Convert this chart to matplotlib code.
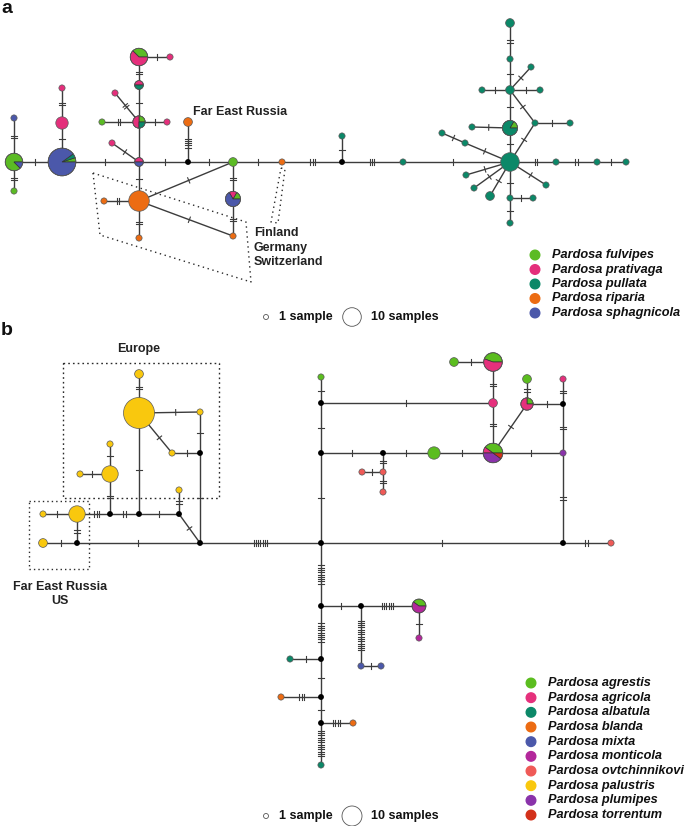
import matplotlib
matplotlib.use('Agg')
import matplotlib.pyplot as plt
from matplotlib.patches import Wedge, Circle
import numpy as np

W, H = 685, 826
plt.rcParams['font.family'] = ['Liberation Sans', 'DejaVu Sans']

# ---------------- data: panel a ----------------
species_a = ['Pardosa fulvipes', 'Pardosa prativaga', 'Pardosa pullata',
             'Pardosa riparia', 'Pardosa sphagnicola']
colors_a = ['#5bbb24', '#e42f7b', '#0b8868', '#ec6c13', '#4b58aa']

# sample counts per haplotype, in species_a order
hap_a = {
    'a1': [7, 0, 0, 0, 1], 'a2': [0, 0, 0, 0, 1], 'a3': [1, 0, 0, 0, 0],
    'a4': [1, 0, 1, 0, 18], 'a5': [0, 4, 0, 0, 0], 'a6': [0, 1, 0, 0, 0],
    'a7': [0, 1, 0, 0, 1], 'a8': [0, 1, 0, 0, 0], 'a9': [1, 2, 1, 0, 0],
    'a10': [1, 0, 0, 0, 0], 'a11': [0, 1, 0, 0, 0], 'a12': [0, 1, 0, 0, 0],
    'a13': [0, 1, 1, 0, 0], 'a14': [3, 5, 0, 0, 0], 'a15': [0, 1, 0, 0, 0],
    'a16': [0, 0, 0, 11, 0], 'a17': [0, 0, 0, 1, 0], 'a18': [0, 0, 0, 1, 0],
    'a19': [0, 0, 0, 1, 0], 'a20': [0, 0, 0, 2, 0], 'a21': [2, 0, 0, 0, 0],
    'a22': [1, 1, 0, 0, 4], 'a23': [0, 0, 0, 1, 0], 'a24': [0, 0, 1, 0, 0],
    'a25': [0, 0, 1, 0, 0], 'a26': [0, 0, 9, 0, 0], 'a27': [0, 0, 1, 0, 0],
    'a28': [0, 0, 1, 0, 0], 'a29': [0, 0, 1, 0, 0], 'a30': [1, 0, 5, 0, 0],
    'a31': [0, 0, 1, 0, 0], 'a32': [0, 0, 2, 0, 0], 'a33': [0, 0, 1, 0, 0],
    'a34': [0, 0, 1, 0, 0], 'a35': [0, 0, 1, 0, 0], 'a36': [0, 0, 1, 0, 0],
    'a37': [0, 0, 2, 0, 0], 'a38': [0, 0, 1, 0, 0], 'a39': [0, 0, 1, 0, 0],
    'a40': [0, 0, 1, 0, 0], 'a41': [0, 0, 1, 0, 0], 'a42': [0, 0, 1, 0, 0],
    'a43': [0, 0, 1, 0, 0], 'a44': [0, 0, 2, 0, 0], 'a45': [0, 0, 1, 0, 0],
    'a46': [0, 0, 1, 0, 0], 'a47': [0, 0, 1, 0, 0], 'a48': [0, 0, 1, 0, 0],
}
# edges: (haplotype, haplotype, number of mutations)
edges_a = [
    ('a1', 'a2', 2), ('a1', 'a3', 2), ('a1', 'a4', 1), ('a4', 'a5', 1),
    ('a5', 'a6', 2), ('a4', 'a7', 1), ('a7', 'a8', 1), ('a7', 'a9', 0),
    ('a9', 'a10', 2), ('a9', 'a11', 1), ('a9', 'a12', 2), ('a9', 'a13', 1),
    ('a13', 'a14', 2), ('a14', 'a15', 1), ('a7', 'a16', 1), ('a16', 'a17', 2),
    ('a16', 'a18', 2), ('a16', 'a21', 1), ('a16', 'a19', 1), ('a7', 'j1', 1),
    ('j1', 'a20', 5), ('j1', 'a21', 1), ('a21', 'a22', 2), ('a22', 'a19', 2),
    ('a21', 'a23', 1), ('a23', 'j2', 3), ('j2', 'a24', 1), ('j2', 'a25', 3),
    ('a25', 'a26', 1), ('a26', 'a27', 2), ('a27', 'a28', 2), ('a28', 'a29', 1),
    ('a26', 'a30', 1), ('a30', 'a31', 1), ('a30', 'a32', 1), ('a32', 'a33', 1),
    ('a32', 'a34', 1), ('a32', 'a35', 1), ('a32', 'a36', 1), ('a36', 'a37', 2),
    ('a32', 'a38', 1), ('a38', 'a39', 1), ('a38', 'a26', 1), ('a26', 'a40', 1),
    ('a40', 'a41', 1), ('a26', 'a42', 1), ('a26', 'a43', 1), ('a26', 'a44', 1),
    ('a26', 'a45', 1), ('a26', 'a46', 1), ('a46', 'a47', 1), ('a46', 'a48', 1),
]

# ---------------- data: panel b ----------------
species_b = ['Pardosa agrestis', 'Pardosa agricola', 'Pardosa albatula',
             'Pardosa blanda', 'Pardosa mixta', 'Pardosa monticola',
             'Pardosa ovtchinnikovi', 'Pardosa palustris', 'Pardosa plumipes',
             'Pardosa torrentum']
colors_b = ['#5bbd1f', '#e5307c', '#0c8868', '#ec6b12', '#4b58aa',
            '#b3279b', '#ef5a57', '#f9c80e', '#8a33aa', '#d3311a']

def _c(**kw):
    idx = {'agr': 0, 'agc': 1, 'alb': 2, 'bla': 3, 'mix': 4, 'mon': 5,
           'ovt': 6, 'pal': 7, 'plu': 8, 'tor': 9}
    v = [0] * 10
    for k, n in kw.items():
        v[idx[k]] = n
    return v

hap_b = {
    'b1': _c(pal=2), 'b2': _c(pal=1), 'b3': _c(pal=7), 'b4': _c(pal=1),
    'b5': _c(pal=7), 'b6': _c(pal=1), 'b7': _c(pal=1), 'b8': _c(pal=25),
    'b9': _c(pal=2), 'b10': _c(pal=1), 'b11': _c(pal=1), 'b12': _c(agr=1),
    'b13': _c(agc=2), 'b14': _c(agr=4, agc=5), 'b15': _c(agr=2),
    'b16': _c(agr=4, agc=1, plu=4, tor=1), 'b17': _c(agr=4), 'b18': _c(plu=1),
    'b19': _c(ovt=1), 'b20': _c(ovt=1), 'b21': _c(ovt=1),
    'b22': _c(agr=1, agc=3), 'b23': _c(agr=2), 'b24': _c(agc=1),
    'b25': _c(ovt=1), 'b26': _c(agr=2, mon=3), 'b27': _c(mon=1),
    'b28': _c(mix=1), 'b29': _c(mix=1), 'b30': _c(alb=1), 'b31': _c(bla=1),
    'b32': _c(bla=1), 'b33': _c(alb=1),
}
edges_b = [
    ('b1', 'k1', 1), ('k1', 'b3', 2), ('b3', 'b2', 1), ('b3', 'k2', 3),
    ('k2', 'k3', 2), ('k3', 'k4', 1), ('k4', 'k5', 1), ('k4', 'b4', 2),
    ('k2', 'b5', 2), ('b5', 'b6', 1), ('b5', 'b7', 1), ('k3', 'b8', 1),
    ('b8', 'b9', 2), ('b8', 'b10', 1), ('b8', 'b11', 1), ('b11', 'k6', 1),
    ('b10', 'k6', 1), ('k6', 'k5', 1), ('k1', 'k5', 1), ('k5', 'k7', 7),
    ('k7', 'k9', 1), ('k9', 'k8', 1), ('k8', 'b12', 1), ('k8', 'b13', 1),
    ('b13', 'b14', 2), ('b14', 'b15', 1), ('b13', 'b16', 2), ('k9', 'k10', 1),
    ('k10', 'b17', 1), ('b17', 'b16', 1), ('b16', 'b18', 1), ('k10', 'b19', 2),
    ('b19', 'b20', 1), ('b19', 'b21', 2), ('b16', 'b22', 1), ('b22', 'b23', 2),
    ('b22', 'k11', 1), ('k11', 'b24', 2), ('k11', 'b18', 2), ('b18', 'k12', 2),
    ('k7', 'k12', 1), ('k12', 'b25', 2), ('k7', 'k13', 9), ('k13', 'k14', 1),
    ('k14', 'b26', 6), ('b26', 'b27', 1), ('k14', 'b28', 14), ('b28', 'b29', 1),
    ('k13', 'k15', 9), ('k15', 'b30', 1), ('k15', 'k16', 1), ('k16', 'b31', 3),
    ('k16', 'k17', 1), ('k17', 'b32', 4), ('k17', 'b33', 12),
]

# ---------------- layout (pixel positions of network vertices) ----------------
pos_a = {
    'a1': (14, 162), 'a2': (14, 118), 'a3': (14, 191), 'a4': (62, 162),
    'a5': (62, 123), 'a6': (62, 88), 'a7': (139, 162), 'a8': (112, 143),
    'a9': (139, 122), 'a10': (102, 122), 'a11': (167, 122), 'a12': (115, 93),
    'a13': (139, 85), 'a14': (139, 57), 'a15': (170, 57), 'a16': (139, 201),
    'a17': (104, 201), 'a18': (139, 238), 'a19': (233, 236), 'j1': (188, 162),
    'a20': (188, 122), 'a21': (233, 162), 'a22': (233, 199), 'a23': (282, 162),
    'j2': (342, 162), 'a24': (342, 136), 'a25': (403, 162), 'a26': (510, 162),
    'a27': (556, 162), 'a28': (597, 162), 'a29': (626, 162), 'a30': (510, 128),
    'a31': (472, 127), 'a32': (510, 90), 'a33': (482, 90), 'a34': (540, 90),
    'a35': (531, 67), 'a36': (510, 59), 'a37': (510, 23), 'a38': (535, 123),
    'a39': (570, 123), 'a40': (465, 143), 'a41': (442, 133), 'a42': (466, 175),
    'a43': (474, 188), 'a44': (490, 196), 'a45': (546, 185), 'a46': (510, 198),
    'a47': (533, 198), 'a48': (510, 223),
}
pos_b = {
    'b1': (43, 543), 'b2': (43, 514), 'k1': (77, 543), 'b3': (77, 514),
    'k2': (110, 514), 'k3': (139, 514), 'k4': (179, 514), 'k5': (200, 543),
    'b4': (179, 490), 'b5': (110, 474), 'b6': (80, 474), 'b7': (110, 444),
    'b8': (139, 413), 'b9': (139, 374), 'b10': (200, 412), 'b11': (172, 453),
    'k6': (200, 453), 'k7': (321, 543), 'k8': (321, 403), 'k9': (321, 453),
    'b12': (321, 377), 'b13': (493, 403), 'b14': (493, 362), 'b15': (454, 362),
    'b16': (493, 453), 'k10': (383, 453), 'b17': (434, 453), 'b18': (563, 453),
    'b19': (383, 472), 'b20': (362, 472), 'b21': (383, 492), 'b22': (527, 404),
    'b23': (527, 379), 'k11': (563, 404), 'b24': (563, 379), 'k12': (563, 543),
    'b25': (611, 543), 'k13': (321, 606), 'k14': (361, 606), 'b26': (419, 606),
    'b27': (419, 638), 'b28': (361, 666), 'b29': (381, 666), 'k15': (321, 659),
    'b30': (290, 659), 'k16': (321, 697), 'b31': (281, 697), 'k17': (321, 723),
    'b32': (353, 723), 'b33': (321, 765),
}

EDGE = '#3c3c3c'
OUTLINE = '#5a5a5a'

fig = plt.figure(figsize=(W / 100, H / 100), dpi=100)
ax = fig.add_axes([0, 0, 1, 1])
ax.set_xlim(0, W)
ax.set_ylim(0, H)
ax.axis('off')


def P(x, y):
    return x, H - y


def radius(hap, k):
    return 3.1 * np.sqrt(sum(hap[k]))


def draw_network(pos, hap, edges, colors):
    for p, q, m in edges:
        x1, y1 = P(*pos[p])
        x2, y2 = P(*pos[q])
        ax.plot([x1, x2], [y1, y2], color=EDGE, lw=1.0, zorder=1,
                solid_capstyle='butt')
        if m <= 0:
            continue
        L = np.hypot(x2 - x1, y2 - y1)
        u = np.array([(x2 - x1) / L, (y2 - y1) / L])
        nrm = np.array([-u[1], u[0]])
        r1 = radius(hap, p) if p in hap else 2.0
        r2 = radius(hap, q) if q in hap else 2.0
        mid = (r1 + (L - r2)) / 2
        sp = 2.3
        for i in range(m):
            t = mid + (i - (m - 1) / 2) * sp
            c = np.array([x1, y1]) + u * t
            a = c + nrm * 2.8
            b = c - nrm * 2.8
            ax.plot([a[0], b[0]], [a[1], b[1]], color=EDGE, lw=0.8, zorder=2)
    for k, (x, y) in pos.items():
        cx, cy = P(x, y)
        if k not in hap:
            ax.add_patch(Circle((cx, cy), 2.2, color='black', zorder=4))
            continue
        cnt = hap[k]
        tot = sum(cnt)
        r = radius(hap, k)
        ang = 0.0
        nz = [i for i, v in enumerate(cnt) if v > 0]
        if len(nz) == 1:
            ax.add_patch(Circle((cx, cy), r, facecolor=colors[nz[0]],
                                edgecolor=OUTLINE, lw=0.5, zorder=5))
            continue
        for i in nz:
            span = 360.0 * cnt[i] / tot
            ax.add_patch(Wedge((cx, cy), r, ang, ang + span,
                               facecolor=colors[i], edgecolor='#333333',
                               lw=0.5, zorder=5))
            ang += span
        ax.add_patch(Circle((cx, cy), r, fill=False, edgecolor=OUTLINE,
                            lw=0.5, zorder=6))


def dotted_poly(pts, ls=(0, (1, 2.6))):
    xs = [p[0] for p in pts] + [pts[0][0]]
    ys = [H - p[1] for p in pts] + [H - pts[0][1]]
    ax.plot(xs, ys, color='#2a2a2a', lw=1.0, ls=ls, zorder=0)


def species_legend(species, colors, x, y0, dy):
    for i, (s, c) in enumerate(zip(species, colors)):
        cx, cy = P(x, y0 + i * dy)
        ax.add_patch(Circle((cx, cy), 4.8, color=c, zorder=5))
        ax.text(cx + 17.5, cy, s, fontsize=9.2, fontweight='bold',
                fontstyle='italic', va='center', ha='left', color='#111111')


def size_legend(y, r10):
    cx, cy = P(266, y)
    ax.add_patch(Circle((cx, cy), 2.5, fill=False, edgecolor='#555555', lw=0.6))
    ax.text(279, cy, '1 sample', fontsize=9, fontweight='bold',
            va='center', ha='left', color='#111111')
    cx2, _ = P(352, y)
    ax.add_patch(Circle((cx2, cy), r10, fill=False, edgecolor='#555555',
                        lw=0.6))
    ax.text(371, cy, '10 samples', fontsize=9, fontweight='bold',
            va='center', ha='left', color='#111111')


# ---------------- panel a ----------------
ax.text(1, H - 13, 'a', fontsize=14, fontweight='bold', ha='left',
        va='baseline', color='#111111')
draw_network(pos_a, hap_a, edges_a, colors_a)
dotted_poly([(93, 173), (246, 222), (251, 282), (100, 235)])
dotted_poly([(281, 168), (285, 169), (278, 223), (271, 222)])
ax.text(193, H - 112, 'Far East Russia', fontsize=9, fontweight='bold',
        ha='left', va='center', color='#222222')
for i, t in enumerate(['Finland', 'Germany', 'Switzerland']):
    ax.text(254, H - (233 + i * 14.5), t, fontsize=9, fontweight='bold',
            ha='left', va='center', color='#222222')
species_legend(species_a, colors_a, 535, 255, 14.5)
size_legend(317, 9.3)

# ---------------- panel b ----------------
ax.text(1, H - 335, 'b', fontsize=14, fontweight='bold', ha='left',
        va='baseline', color='#111111')
draw_network(pos_b, hap_b, edges_b, colors_b)
dotted_poly([(63, 363), (219, 363), (219, 498), (63, 498)], ls=(0, (1.2, 2.2)))
dotted_poly([(29, 501), (89, 501), (89, 569), (29, 569)], ls=(0, (1, 2.2)))
ax.text(139, H - 349, 'Europe', fontsize=9, fontweight='bold', ha='center',
        va='center', color='#222222')
ax.text(60, H - 587, 'Far East Russia', fontsize=9, fontweight='bold',
        ha='center', va='center', color='#222222')
ax.text(60, H - 601, 'US', fontsize=9, fontweight='bold', ha='center',
        va='center', color='#222222')
species_legend(species_b, colors_b, 531, 683, 14.67)
size_legend(816, 10)

fig.savefig('out.png', dpi=100)
